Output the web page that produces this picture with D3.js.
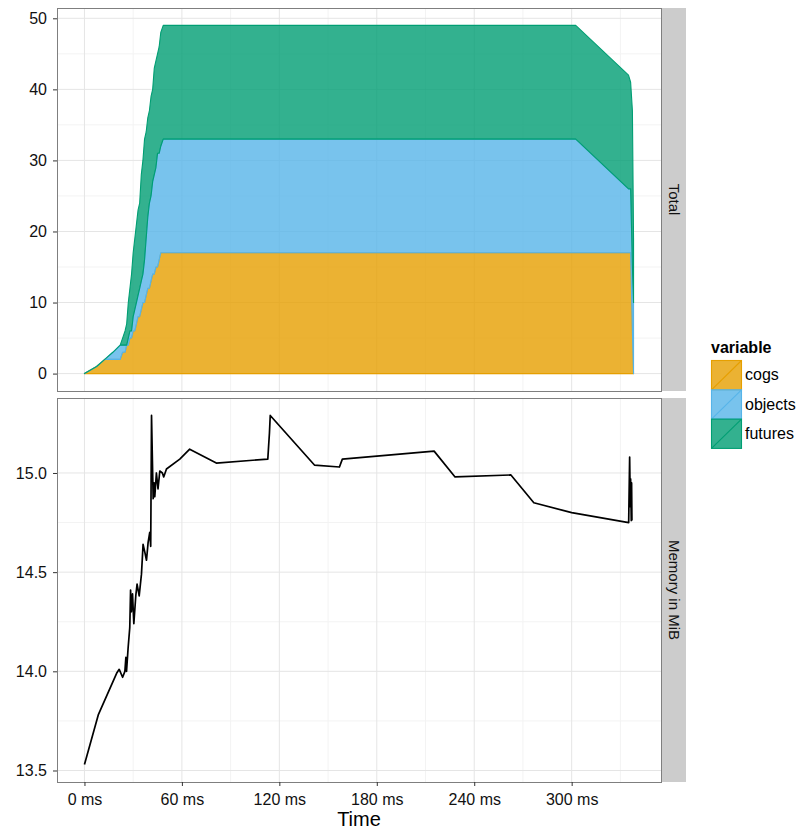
<!DOCTYPE html>
<html>
<head>
<meta charset="utf-8">
<script src="https://cdn.jsdelivr.net/npm/d3@7"></script>
<style>
  body { margin: 0; background: #fff; }
  svg text { font-family: "Liberation Sans", Arial, sans-serif; }
</style>
</head>
<body>
<div id="chart"></div>
<script>
// time of each event (ms) for the stacked counts
var times = [0, 7.5, 12.5, 17.5, 22,
  23.5, 25, 26, 27, 28, 29, 30, 31, 32, 33, 34, 35, 36, 37, 38, 39, 40, 41, 42, 43, 44, 45, 46, 47, 48.5,
  302.5, 335, 336.3, 337.4, 338.1];
var cogs = [0, 1, 2, 2, 2,
  3, 3, 4, 4, 5, 5, 6, 6, 7, 8, 8, 9, 10, 10, 11, 12, 12, 13, 14, 14, 15, 15, 16, 17, 17,
  17, 17, 17, 6, 0];
var objects = [0, 0, 0, 1, 2,
  1, 1, 0, 1, 1, 1, 2, 3, 3, 3, 4, 4, 4, 6, 8, 10, 12, 12, 13, 14, 14, 16, 15, 15, 16,
  16, 9, 9, 9, 10];
var futures = [0, 0, 0, 0, 0,
  1, 2, 3, 5, 6, 8, 9, 10, 11, 12, 12, 15, 16, 17, 15, 14, 13, 14, 13, 15, 15, 14, 15, 16, 16,
  16, 16, 15, 22, 9];

// memory samples
var memTimes = [0, 8.5, 19.8, 21.4, 23.5, 24.9, 25.5, 25.9, 26.9, 27.9, 28.4, 28.9, 29.6, 30.4, 31.6, 32.4,
  33.7, 35.1, 36.1, 37.2, 38.2, 39.2, 40.2, 40.8, 41.3, 42.3, 42.9, 43.3, 44.3, 45.3, 46.4, 48, 48.8, 50.5,
  58.7, 64.8, 81.2, 112.9, 113.5, 113.9, 114.4, 141.6, 157, 158.8, 215.3, 228.2, 262.6, 276.7, 300,
  335.1, 335.7, 336.1, 336.3, 336.7, 336.9, 337.1];
var memory = [13.53, 13.78, 13.99, 14.01, 13.97, 14.0, 14.07, 14.0, 14.12, 14.22, 14.41, 14.3, 14.39, 14.24, 14.38, 14.44,
  14.38, 14.49, 14.64, 14.6, 14.56, 14.65, 14.7, 14.63, 15.29, 14.87, 14.95, 14.88, 15.0, 14.92, 15.01, 15.0, 14.98, 15.02,
  15.07, 15.12, 15.05, 15.07, 15.15, 15.2, 15.29, 15.04, 15.03, 15.07, 15.11, 14.98, 14.99, 14.85, 14.8,
  14.75, 15.08, 14.83, 14.97, 14.76, 14.95, 14.76];

var keys = ["cogs", "objects", "futures"];
var colors = ["#E69F00", "#56B4E9", "#009E73"];
var xTicks = [0, 60, 120, 180, 240, 300];
var topTicks = [0, 10, 20, 30, 40, 50];
var memTicks = [13.5, 14.0, 14.5, 15.0];
var stripLabels = ["Total", "Memory in MiB"];

var W = 800, H = 832;
var pLeft = 57, pRight = 661;
var topP = {y0: 8, y1: 391}, botP = {y0: 398, y1: 782};

var svg = d3.select("#chart").append("svg")
  .attr("width", W).attr("height", H);

var rows = times.map(function(t, i) {
  return {t: t, cogs: cogs[i], objects: objects[i], futures: futures[i]};
});
var stacked = d3.stack().keys(keys)(rows);

// scales (ggplot style 5% expansion)
var tMax = d3.max(times), tPad = tMax * 0.05;
var x = d3.scaleLinear().domain([-tPad, tMax + tPad]).range([pLeft, pRight]);

var totMax = d3.max(stacked[2], function(d) { return d[1]; });
var y1 = d3.scaleLinear().domain([-totMax * 0.05, totMax * 1.05]).range([topP.y1, topP.y0]);

var mExt = d3.extent(memory), mPad = (mExt[1] - mExt[0]) * 0.05;
var y2 = d3.scaleLinear().domain([mExt[0] - mPad, mExt[1] + mPad]).range([botP.y1, botP.y0]);

function midpoints(arr) {
  var out = [];
  for (var i = 0; i < arr.length - 1; i++) out.push((arr[i] + arr[i + 1]) / 2);
  return out;
}

function drawPanel(p, y, yTicks, label) {
  var g = svg.append("g");
  g.append("rect").attr("x", pLeft).attr("y", p.y0)
    .attr("width", pRight - pLeft).attr("height", p.y1 - p.y0).attr("fill", "#fff");

  var xMinor = midpoints(xTicks).concat([xTicks[xTicks.length - 1] + 30]);
  var yMinor = midpoints(yTicks);
  g.selectAll(".xmin").data(xMinor).enter().append("line")
    .attr("x1", d => x(d)).attr("x2", d => x(d)).attr("y1", p.y0).attr("y2", p.y1)
    .attr("stroke", "#F3F3F3").attr("stroke-width", 1);
  g.selectAll(".ymin").data(yMinor).enter().append("line")
    .attr("x1", pLeft).attr("x2", pRight).attr("y1", d => y(d)).attr("y2", d => y(d))
    .attr("stroke", "#F3F3F3").attr("stroke-width", 1);
  g.selectAll(".xmaj").data(xTicks).enter().append("line")
    .attr("x1", d => x(d)).attr("x2", d => x(d)).attr("y1", p.y0).attr("y2", p.y1)
    .attr("stroke", "#E5E5E5").attr("stroke-width", 1);
  g.selectAll(".ymaj").data(yTicks).enter().append("line")
    .attr("x1", pLeft).attr("x2", pRight).attr("y1", d => y(d)).attr("y2", d => y(d))
    .attr("stroke", "#E5E5E5").attr("stroke-width", 1);

  // y axis
  var ax = svg.append("g").attr("transform", "translate(" + pLeft + ",0)")
    .call(d3.axisLeft(y).tickValues(yTicks).tickSize(4).tickPadding(6)
      .tickFormat(yTicks[0] < 1 ? d3.format("d") : d3.format(".1f")));
  ax.select(".domain").remove();
  ax.selectAll("line").attr("stroke", "#333");
  ax.selectAll("text").style("font-size", "16px").attr("fill", "#111")
    .style("font-family", "Liberation Sans, Arial, sans-serif");

  // strip
  svg.append("rect").attr("x", pRight + 1).attr("y", p.y0)
    .attr("width", 24).attr("height", p.y1 - p.y0).attr("fill", "#CCCCCC");
  svg.append("text")
    .attr("transform", "translate(" + (pRight + 13) + "," + ((p.y0 + p.y1) / 2) + ") rotate(90)")
    .attr("text-anchor", "middle").attr("dy", "0.35em")
    .style("font-size", "15px").attr("fill", "#111").text(label);
  return g;
}

var gTop = drawPanel(topP, y1, topTicks, stripLabels[0]);
var gBot = drawPanel(botP, y2, memTicks, stripLabels[1]);

// stacked areas
var area = d3.area()
  .x(function(d) { return x(d.data.t); })
  .y0(function(d) { return y1(d[0]); })
  .y1(function(d) { return y1(d[1]); });

gTop.selectAll(".layer").data(stacked).enter().append("path")
  .attr("d", area)
  .attr("fill", (d, i) => colors[i]).attr("fill-opacity", 0.8)
  .attr("stroke", (d, i) => colors[i]).attr("stroke-width", 1.1)
  .attr("stroke-linejoin", "round");

// memory line
var line = d3.line()
  .x(function(d, i) { return x(memTimes[i]); })
  .y(function(d) { return y2(d); });
gBot.append("path").datum(memory)
  .attr("d", line).attr("fill", "none")
  .attr("stroke", "#000").attr("stroke-width", 1.7).attr("stroke-linejoin", "round");

// panel borders
[topP, botP].forEach(function(p) {
  svg.append("rect").attr("x", pLeft + 0.5).attr("y", p.y0 + 0.5)
    .attr("width", pRight - pLeft).attr("height", p.y1 - p.y0)
    .attr("fill", "none").attr("stroke", "#7F7F7F").attr("stroke-width", 1);
});

// x axis
var xa = svg.append("g").attr("transform", "translate(0," + botP.y1 + ")")
  .call(d3.axisBottom(x).tickValues(xTicks).tickSize(4).tickPadding(8)
    .tickFormat(function(d) { return d + " ms"; }));
xa.select(".domain").remove();
xa.selectAll("line").attr("stroke", "#333");
xa.selectAll("text").style("font-size", "16px").attr("fill", "#111")
  .style("font-family", "Liberation Sans, Arial, sans-serif");

svg.append("text").attr("x", (pLeft + pRight) / 2).attr("y", 826)
  .attr("text-anchor", "middle").style("font-size", "20px").text("Time");

// legend
var lg = svg.append("g").attr("transform", "translate(711,360)");
lg.append("text").attr("x", 0).attr("y", -7)
  .style("font-size", "16px").style("font-weight", "bold").text("variable");
var kh = 29.3, kw = 30;
keys.forEach(function(k, i) {
  var yy = i * kh;
  lg.append("rect").attr("x", 0.5).attr("y", yy + 0.5).attr("width", kw).attr("height", kh)
    .attr("fill", colors[i]).attr("fill-opacity", 0.8)
    .attr("stroke", colors[i]).attr("stroke-width", 1.1);
  lg.append("line").attr("x1", 0.5).attr("y1", yy + kh + 0.5).attr("x2", kw + 0.5).attr("y2", yy + 0.5)
    .attr("stroke", colors[i]).attr("stroke-width", 1.1);
  lg.append("text").attr("x", kw + 4).attr("y", yy + kh / 2).attr("dy", "0.35em")
    .style("font-size", "16px").text(k);
});
</script>
</body>
</html>
